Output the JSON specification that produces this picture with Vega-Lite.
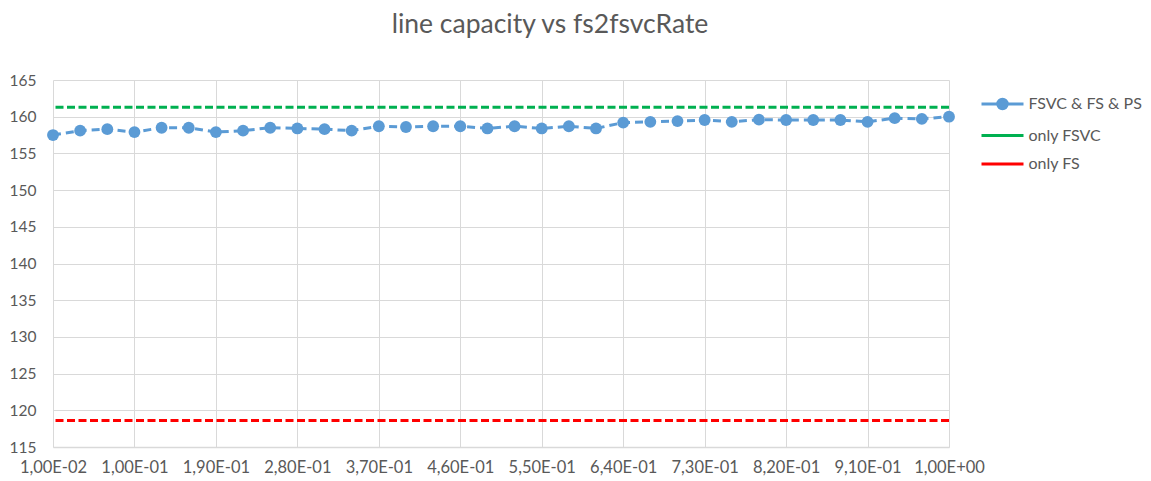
{
  "$schema": "https://vega.github.io/schema/vega-lite/v6.json",
  "autosize": "none",
  "width": 896,
  "height": 367,
  "padding": {"left": 53, "top": 80, "right": 202, "bottom": 34},
  "background": "white",
  "config": {
    "view": {"stroke": null},
    "font": "Lato"
  },
  "title": {
    "text": "line capacity vs fs2fsvcRate",
    "font": "Lato",
    "fontSize": 26.5,
    "fontWeight": "normal",
    "color": "#595959",
    "anchor": "middle",
    "offset": 35,
    "dx": 49
  },
  "datasets": {
    "pts": [
      {"x": "1,00E-02", "y": 157.5, "series": "FSVC & FS & PS"},
      {"x": "4,00E-02", "y": 158.1, "series": "FSVC & FS & PS"},
      {"x": "7,00E-02", "y": 158.3, "series": "FSVC & FS & PS"},
      {"x": "1,00E-01", "y": 157.9, "series": "FSVC & FS & PS"},
      {"x": "1,30E-01", "y": 158.5, "series": "FSVC & FS & PS"},
      {"x": "1,60E-01", "y": 158.5, "series": "FSVC & FS & PS"},
      {"x": "1,90E-01", "y": 157.9, "series": "FSVC & FS & PS"},
      {"x": "2,20E-01", "y": 158.1, "series": "FSVC & FS & PS"},
      {"x": "2,50E-01", "y": 158.5, "series": "FSVC & FS & PS"},
      {"x": "2,80E-01", "y": 158.4, "series": "FSVC & FS & PS"},
      {"x": "3,10E-01", "y": 158.3, "series": "FSVC & FS & PS"},
      {"x": "3,40E-01", "y": 158.1, "series": "FSVC & FS & PS"},
      {"x": "3,70E-01", "y": 158.7, "series": "FSVC & FS & PS"},
      {"x": "4,00E-01", "y": 158.6, "series": "FSVC & FS & PS"},
      {"x": "4,30E-01", "y": 158.7, "series": "FSVC & FS & PS"},
      {"x": "4,60E-01", "y": 158.7, "series": "FSVC & FS & PS"},
      {"x": "4,90E-01", "y": 158.4, "series": "FSVC & FS & PS"},
      {"x": "5,20E-01", "y": 158.7, "series": "FSVC & FS & PS"},
      {"x": "5,50E-01", "y": 158.4, "series": "FSVC & FS & PS"},
      {"x": "5,80E-01", "y": 158.7, "series": "FSVC & FS & PS"},
      {"x": "6,10E-01", "y": 158.4, "series": "FSVC & FS & PS"},
      {"x": "6,40E-01", "y": 159.2, "series": "FSVC & FS & PS"},
      {"x": "6,70E-01", "y": 159.3, "series": "FSVC & FS & PS"},
      {"x": "7,00E-01", "y": 159.4, "series": "FSVC & FS & PS"},
      {"x": "7,30E-01", "y": 159.55, "series": "FSVC & FS & PS"},
      {"x": "7,60E-01", "y": 159.3, "series": "FSVC & FS & PS"},
      {"x": "7,90E-01", "y": 159.6, "series": "FSVC & FS & PS"},
      {"x": "8,20E-01", "y": 159.55, "series": "FSVC & FS & PS"},
      {"x": "8,50E-01", "y": 159.55, "series": "FSVC & FS & PS"},
      {"x": "8,80E-01", "y": 159.55, "series": "FSVC & FS & PS"},
      {"x": "9,10E-01", "y": 159.3, "series": "FSVC & FS & PS"},
      {"x": "9,40E-01", "y": 159.8, "series": "FSVC & FS & PS"},
      {"x": "9,70E-01", "y": 159.7, "series": "FSVC & FS & PS"},
      {"x": "1,00E+00", "y": 160.0, "series": "FSVC & FS & PS"}
    ],
    "refs": [
      {"y": 161.3, "series": "only FSVC"},
      {"y": 118.6, "series": "only FS"}
    ]
  },
  "encoding": {
    "y": {
      "field": "y",
      "type": "quantitative",
      "scale": {"domain": [115, 165], "zero": false, "nice": false},
      "axis": {
        "title": null,
        "values": [115, 120, 125, 130, 135, 140, 145, 150, 155, 160, 165],
        "labelFont": "Lato",
        "labelFontSize": 15.5,
        "labelColor": "#595959",
        "labelPadding": 17,
        "labelOverlap": false,
        "ticks": false,
        "domain": false,
        "grid": true,
        "gridColor": "#D9D9D9",
        "gridWidth": 1
      }
    },
    "color": {
      "field": "series",
      "type": "nominal",
      "scale": {
        "domain": ["FSVC & FS & PS", "only FSVC", "only FS"],
        "range": ["#5B9BD5", "#00B050", "#FF0000"]
      },
      "legend": {
        "title": null,
        "orient": "none",
        "legendX": 937.5,
        "legendY": 12,
        "padding": 0,
        "symbolType": "M-2,0H2",
        "symbolSize": 441,
        "symbolStrokeWidth": 3,
        "labelFont": "Lato",
        "labelFontSize": 16,
        "labelColor": "#595959",
        "labelOffset": 14,
        "rowPadding": 8.5,
        "encode": {
          "symbols": {
            "update": {
              "shape": {"signal": "datum.value === 'FSVC & FS & PS' ? 'M-2,0H2M0.45,0A0.45,0.45,0,1,1,-0.45,0A0.45,0.45,0,1,1,0.45,0' : 'M-2,0H2'"},
              "fill": {"signal": "datum.value === 'FSVC & FS & PS' ? '#5B9BD5' : 'transparent'"},
              "strokeDash": {"value": []},
              "strokeWidth": {"value": 3},
              "opacity": {"value": 1}
            }
          }
        }
      }
    }
  },
  "layer": [
    {
      "data": {"name": "refs"},
      "mark": {"type": "rule", "strokeDash": [8, 3.5], "strokeWidth": 3},
      "encoding": {}
    },
    {
      "data": {"name": "pts"},
      "mark": {
        "type": "line",
        "strokeDash": [8, 5],
        "strokeWidth": 3,
        "point": {"filled": true, "size": 140, "opacity": 1}
      },
      "encoding": {
        "x": {
          "field": "x",
          "type": "ordinal",
          "sort": null,
          "scale": {"type": "point", "padding": 0},
          "axis": {
            "title": null,
            "values": ["1,00E-02", "1,00E-01", "1,90E-01", "2,80E-01", "3,70E-01", "4,60E-01", "5,50E-01", "6,40E-01", "7,30E-01", "8,20E-01", "9,10E-01", "1,00E+00"],
            "labelAngle": 0,
            "labelFont": "Lato",
            "labelFontSize": 16.5,
            "labelColor": "#595959",
            "labelPadding": 12,
            "labelOverlap": false,
            "ticks": false,
            "grid": true,
            "gridColor": "#D9D9D9",
            "gridWidth": 1,
            "domain": true,
            "domainColor": "#D9D9D9",
            "domainWidth": 1.5
          }
        }
      }
    }
  ]
}
